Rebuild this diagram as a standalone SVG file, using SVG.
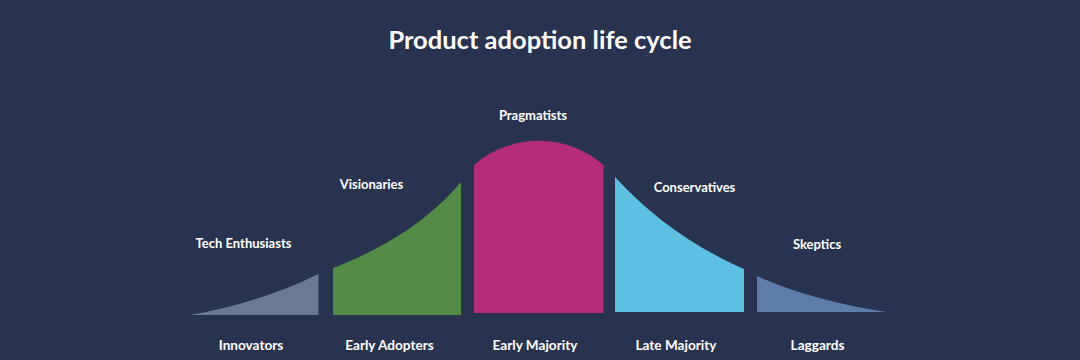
<svg xmlns="http://www.w3.org/2000/svg" width="1080" height="360" viewBox="0 0 1080 360">
<style>
.lbl{font-family:Lato,"Liberation Sans",sans-serif;font-weight:bold;font-size:13px;fill:#ffffff;text-anchor:middle}
.bot{font-size:13.6px}
.title{font-family:Lato,"Liberation Sans",sans-serif;font-weight:bold;font-size:25.5px;fill:#ffffff;text-anchor:middle}
</style>
<rect width="1080" height="360" fill="#28334f"/>
<text class="title" x="540" y="48.5">Product adoption life cycle</text>
<g id="innovators">
<path d="M190,315 Q262,302 318.5,274 L318.5,315 Z" fill="#697a95"/>
<text class="lbl" x="243.5" y="248">Tech Enthusiasts</text>
<text class="lbl bot" x="251" y="350">Innovators</text>
</g>
<g id="early-adopters">
<path d="M333,268 C372,253 422,228 461,182 L461,315 L333,315 Z" fill="#538b47"/>
<text class="lbl" x="371.5" y="189">Visionaries</text>
<text class="lbl bot" x="389.5" y="350">Early Adopters</text>
</g>
<g id="early-majority">
<path d="M474,313 L474,165 A98.7,98.7 0 0 1 603.5,165 L603.5,313 Z" fill="#b42c7a"/>
<text class="lbl" x="533" y="119.5">Pragmatists</text>
<text class="lbl bot" x="535" y="350">Early Majority</text>
</g>
<g id="late-majority">
<path d="M615,312 L615,177 C650,215 690,245 744,269 L744,312 Z" fill="#5dbfe2"/>
<text class="lbl" x="694.5" y="192">Conservatives</text>
<text class="lbl bot" x="676" y="350">Late Majority</text>
</g>
<g id="laggards">
<path d="M757,276 Q810,300 886,312 L757,312 Z" fill="#5e7dab"/>
<text class="lbl" x="817" y="249">Skeptics</text>
<text class="lbl bot" x="817.5" y="350">Laggards</text>
</g>
<g id="connectors"/>
</svg>
